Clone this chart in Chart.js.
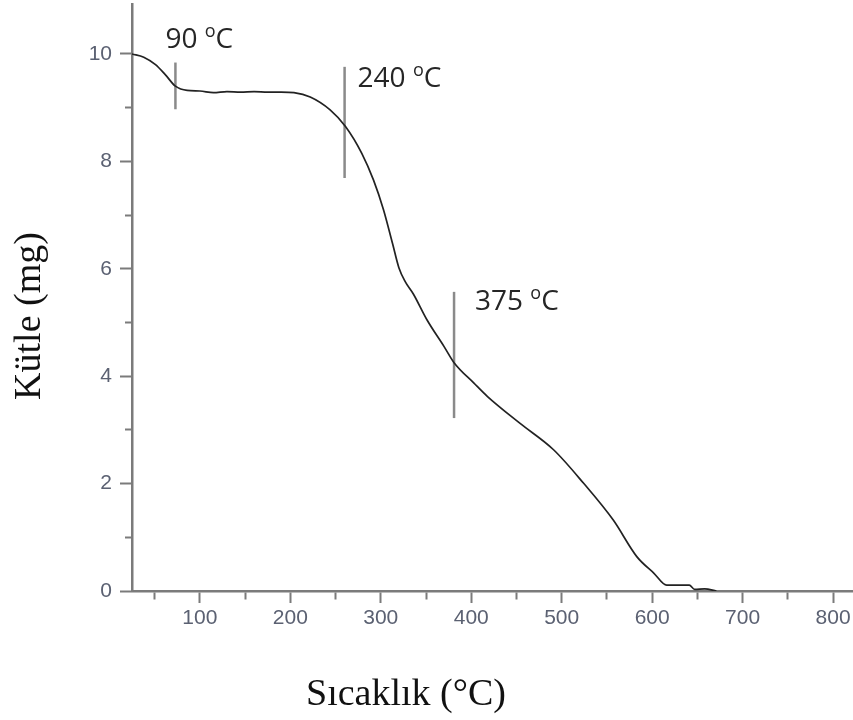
<!DOCTYPE html>
<html>
<head>
<meta charset="utf-8">
<script src="https://cdn.jsdelivr.net/npm/chart.js@4"></script>
<style>
  html, body { margin: 0; padding: 0; background: #fff; }
  canvas { display: block; }
</style>
</head>
<body>
<canvas id="tga" width="853" height="720"></canvas>
<script>
// TGA curve (temperature in °C, mass in mg)
const tempC = [25, 38, 51, 62, 73, 86, 100, 115, 130, 145, 160, 175, 190, 204, 222, 244, 261, 279, 292,
  303, 313, 320, 327, 336, 351, 370, 381, 403, 418, 454, 491, 524, 557, 583, 602, 616, 641, 647, 658, 671];
const massMg = [10.0, 9.94, 9.80, 9.61, 9.40, 9.32, 9.31, 9.28, 9.30, 9.29, 9.30, 9.29, 9.29, 9.28, 9.20, 8.96, 8.65, 8.15, 7.65,
  7.10, 6.47, 6.02, 5.76, 5.53, 5.05, 4.55, 4.25, 3.87, 3.62, 3.12, 2.63, 2.01, 1.32, 0.64, 0.33, 0.11, 0.11, 0.03, 0.04, 0.0];

// vertical marks with their labels
const markTemp = [73, 260, 381];
const markLow = [8.97, 7.69, 3.22];
const markHigh = [9.84, 9.76, 5.57];
const markLabels = ['90', '240', '375'];

// ticks
const xTicks = [50, 100, 150, 200, 250, 300, 350, 400, 450, 500, 550, 600, 650, 700, 750, 800];
const yTicks = [0, 1, 2, 3, 4, 5, 6, 7, 8, 9, 10];

const xTitle = 'Sıcaklık (°C)';
const yTitle = 'Kütle (mg)';

const axisGray = '#7b7b7b';
const labelGray = '#5b6172';

Chart.defaults.font.family = '"Liberation Sans", Arial, sans-serif';

const curve = tempC.map((t, i) => ({x: t, y: massMg[i]}));

const markSets = markTemp.map((t, i) => ({
  data: [{x: t, y: markLow[i]}, {x: t, y: markHigh[i]}],
  showLine: true,
  borderColor: '#8a8a8a',
  borderWidth: 2.5,
  pointRadius: 0
}));

// where each label sits, relative to the top of its mark (pixels)
const labelOffset = [[-10, -15], [13, 20], [21, 18]];

const textPlugin = {
  id: 'texts',
  afterDraw(chart) {
    const ctx = chart.ctx;
    const x = chart.scales.x, y = chart.scales.y;
    ctx.save();
    ctx.fillStyle = '#262626';
    ctx.textBaseline = 'alphabetic';
    ctx.textAlign = 'left';
    markTemp.forEach((t, i) => {
      let px = x.getPixelForValue(t) + labelOffset[i][0];
      const py = y.getPixelForValue(markHigh[i]) + labelOffset[i][1];
      ctx.font = '28px "Open Sans", sans-serif';
      const num = markLabels[i] + ' ';
      ctx.fillText(num, px, py);
      px += ctx.measureText(num).width;
      ctx.font = '18px "Open Sans", sans-serif';
      ctx.fillText('o', px, py - 11);
      px += ctx.measureText('o').width;
      ctx.font = '28px "Open Sans", sans-serif';
      ctx.fillText('C', px, py);
    });

    ctx.fillStyle = '#111';
    ctx.font = '38px "Liberation Serif", "Times New Roman", serif';
    ctx.textAlign = 'center';
    ctx.fillText(xTitle, 406, 705);

    ctx.translate(40, 316);
    ctx.rotate(-Math.PI / 2);
    ctx.fillText(yTitle, 0, 0);
    ctx.restore();
  }
};

new Chart(document.getElementById('tga'), {
  type: 'scatter',
  data: {
    datasets: [{
      data: curve,
      showLine: true,
      borderColor: '#222',
      borderWidth: 1.7,
      pointRadius: 0,
      cubicInterpolationMode: 'monotone'
    }].concat(markSets)
  },
  options: {
    responsive: false,
    animation: false,
    layout: {padding: {top: 4, right: 0, bottom: 0, left: 0}},
    plugins: {legend: {display: false}, tooltip: {enabled: false}},
    scales: {
      x: {
        type: 'linear',
        min: 25,
        max: 822,
        bounds: 'data',
        afterBuildTicks: s => { s.ticks = xTicks.map(v => ({value: v})); },
        afterFit: s => { s.height = 129; s.paddingLeft = 0; s.paddingRight = 0; },
        border: {color: axisGray, width: 2.5},
        grid: {
          drawOnChartArea: false,
          tickLength: 12,
          tickWidth: 2,
          tickColor: axisGray,
          tickBorderDash: c => (c.tick && c.tick.value % 100 !== 0) ? [7, 100] : []
        },
        ticks: {
          autoSkip: false,
          maxRotation: 0,
          padding: 3,
          color: labelGray,
          font: {size: 21},
          callback: v => v % 100 === 0 ? String(v) : ''
        }
      },
      y: {
        type: 'linear',
        min: 0,
        max: 10.93,
        bounds: 'data',
        afterBuildTicks: s => { s.ticks = yTicks.map(v => ({value: v})); },
        afterFit: s => { s.width = 132; s.paddingTop = 0; s.paddingBottom = 0; },
        border: {color: axisGray, width: 2.5},
        grid: {
          drawOnChartArea: false,
          tickLength: 12,
          tickWidth: 2,
          tickColor: axisGray,
          tickBorderDash: c => (c.tick && c.tick.value % 2 !== 0) ? [6, 100] : [],
          tickBorderDashOffset: c => (c.tick && c.tick.value % 2 !== 0) ? -5 : 0
        },
        ticks: {
          autoSkip: false,
          padding: 8,
          color: labelGray,
          font: {size: 21},
          callback: v => v % 2 === 0 ? String(v) : ''
        }
      }
    }
  },
  plugins: [textPlugin]
});
</script>
</body>
</html>
